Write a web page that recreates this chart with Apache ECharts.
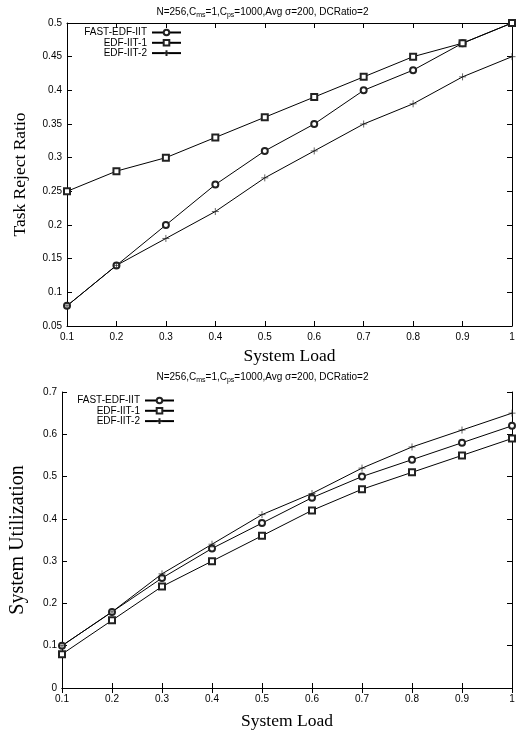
<!DOCTYPE html>
<html><head><meta charset="utf-8">
<script src="https://cdn.jsdelivr.net/npm/echarts@6/dist/echarts.min.js"></script>
<style>html,body{margin:0;padding:0;background:#fff}#c{width:525px;height:731px}</style>
</head><body><div id="c"></div>
<script>
const loads = [0.1,0.2,0.3,0.4,0.5,0.6,0.7,0.8,0.9,1.0];
const seriesNames = ['FAST-EDF-IIT','EDF-IIT-1','EDF-IIT-2'];
// Top chart: Task Reject Ratio
const rejFast = [0.08,0.14,0.20,0.26,0.31,0.35,0.40,0.43,0.47,0.50];
const rejIIT1 = [0.25,0.28,0.30,0.33,0.36,0.39,0.42,0.45,0.47,0.50];
const rejIIT2 = [0.08,0.14,0.18,0.22,0.27,0.31,0.35,0.38,0.42,0.45];
// Bottom chart: System Utilization
const utilFast = [0.10,0.18,0.26,0.33,0.39,0.45,0.50,0.54,0.58,0.62];
const utilIIT1 = [0.08,0.16,0.24,0.30,0.36,0.42,0.47,0.51,0.55,0.59];
const utilIIT2 = [0.10,0.18,0.27,0.34,0.41,0.46,0.52,0.57,0.61,0.65];

const SANS = 'Liberation Sans, Arial, sans-serif';
const SERIF = 'Liberation Serif, Times New Roman, serif';
const symbols = ['emptyCircle','emptyRect','path://M0,5L10,5M5,0L5,10'];
const symSizes = [6,6,7];

const chart = echarts.init(document.getElementById('c'), null, {renderer:'canvas'});

function pairs(ys){ return loads.map((x,i)=>[x, ys[i]]); }

function mkSeries(name, ys, idx, gi){
  return {
    name: name, type:'line', xAxisIndex: gi*2, yAxisIndex: gi*2,
    data: pairs(ys),
    symbol: symbols[idx], symbolSize: symSizes[idx],
    showAllSymbol:true,
    lineStyle:{color:'#000', width:1},
    itemStyle:{color:'#222', borderColor:'#222', borderWidth:0.7},
    emphasis:{disabled:true},
    animation:false, z: 3
  };
}

function titleText(){
  return '{t|N=256,C}{s|ms}{t|=1,C}{s|ps}{t|=1000,Avg σ=200, DCRatio=2}';
}
const titleRich = {
  t:{fontFamily:SANS, fontSize:10, fontWeight:'normal', color:'#000'},
  s:{fontFamily:SANS, fontSize:7, fontWeight:'normal', color:'#000', verticalAlign:'bottom', padding:[6,0,0,0]}
};

const grids = [
  {left:67, right:13, top:23, height:303},
  {left:61, right:13, top:392, height:303}
];

function xAxes(gi, gap){
  return [
    {type:'value', gridIndex:gi, min:0.1, max:1, interval:0.1, position:'bottom',
     axisLine:{lineStyle:{color:'#000', width:1}},
     axisTick:{inside:true, length:5, lineStyle:{color:'#000'}},
     splitLine:{show:false},
     axisLabel:{color:'#000', fontFamily:SANS, fontSize:10, margin:6,
       formatter:v=>String(+v.toFixed(1))},
     name:'System Load', nameLocation:'middle', nameGap:gap,
     nameTextStyle:{fontFamily:SERIF, fontSize:17.5, color:'#000'}},
    {type:'value', gridIndex:gi, min:0.1, max:1, interval:0.1, position:'top',
     axisLine:{lineStyle:{color:'#000', width:1}},
     axisTick:{inside:true, length:5, lineStyle:{color:'#000'}},
     splitLine:{show:false}, axisLabel:{show:false}}
  ];
}
function yAxes(gi, min, max, interval, name, gap, dec, fs){
  return [
    {type:'value', gridIndex:gi, min:min, max:max, interval:interval, position:'left',
     axisLine:{show:true, lineStyle:{color:'#000', width:1}},
     axisTick:{show:true, inside:true, length:5, lineStyle:{color:'#000'}},
     splitLine:{show:false},
     axisLabel:{color:'#000', fontFamily:SANS, fontSize:10, margin:5,
       formatter:v=>String(+v.toFixed(dec))},
     name:name, nameLocation:'middle', nameGap:gap,
     nameTextStyle:{fontFamily:SERIF, fontSize:fs, color:'#000'}},
    {type:'value', gridIndex:gi, min:min, max:max, interval:interval, position:'right',
     axisLine:{show:true, lineStyle:{color:'#000', width:1}},
     axisTick:{show:true, inside:true, length:5, lineStyle:{color:'#000'}},
     splitLine:{show:false}, axisLabel:{show:false}}
  ];
}

function legends(rightEdge, topStart){
  return seriesNames.map((n,i)=>({
    data:[n], orient:'vertical', align:'right',
    right: 525-rightEdge, top: topStart + i*10.3,
    itemWidth:29, itemHeight:7, itemGap:0, padding:0,
    selectedMode:false,
    textStyle:{fontFamily:SANS, fontSize:10, color:'#000', padding:[0,0,0,0]}
  }));
}

const option = {
  backgroundColor:'#fff',
  animation:false,
  title:[
    {text:titleText(), left:'center', top:1, textStyle:{rich:titleRich}},
    {text:titleText(), left:'center', top:366, textStyle:{rich:titleRich}}
  ],
  grid: grids,
  xAxis: [...xAxes(0, 21), ...xAxes(1, 24)],
  yAxis: [...yAxes(0,0.05,0.5,0.05,'Task Reject Ratio',38,2,17.5),
          ...yAxes(1,0,0.7,0.1,'System Utilization',34,1,20)],
  legend: [...legends(182, 27.5), ...legends(175, 395.5)],
  series: [
    mkSeries(seriesNames[0], rejFast, 0, 0),
    mkSeries(seriesNames[1], rejIIT1, 1, 0),
    mkSeries(seriesNames[2], rejIIT2, 2, 0),
    mkSeries(seriesNames[0], utilFast, 0, 1),
    mkSeries(seriesNames[1], utilIIT1, 1, 1),
    mkSeries(seriesNames[2], utilIIT2, 2, 1)
  ]
};
chart.setOption(option);
</script></body></html>
